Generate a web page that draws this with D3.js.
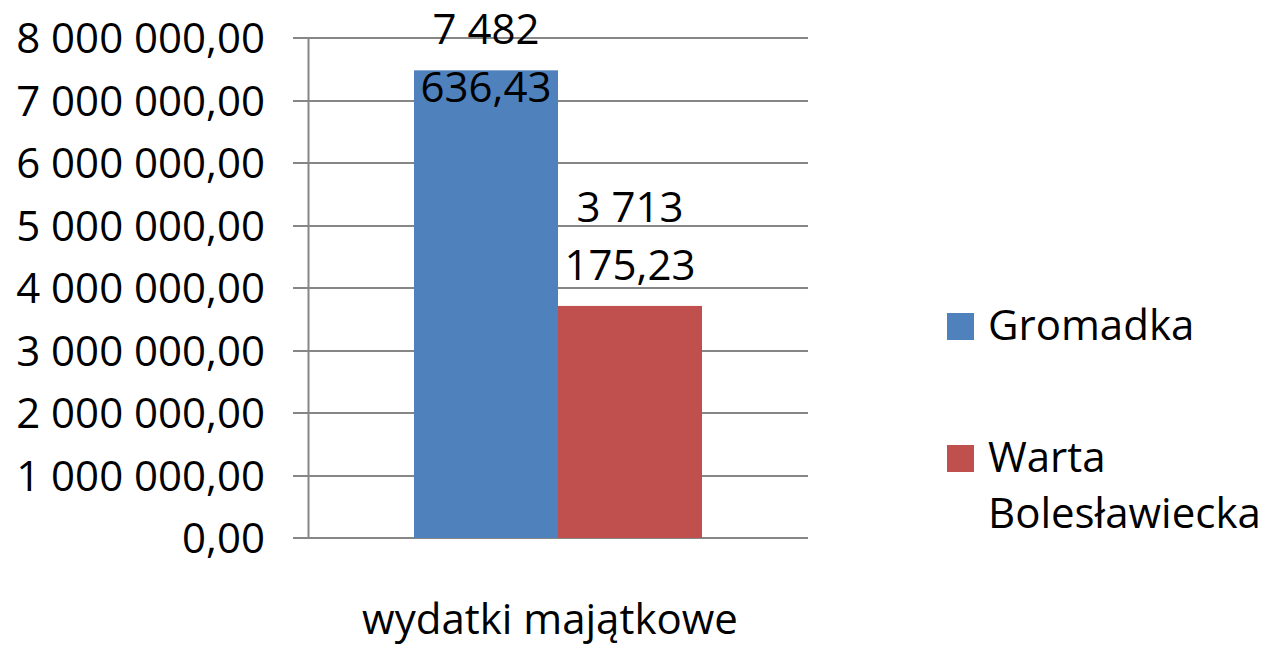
<!DOCTYPE html>
<html>
<head>
<meta charset="utf-8">
<script src="https://cdn.jsdelivr.net/npm/d3@7"></script>
<style>
  html, body { margin: 0; padding: 0; background: #fff; }
  svg text { font-family: "Open Sans", sans-serif; fill: #000; }
</style>
</head>
<body>
<svg id="chart" width="1264" height="647"></svg>
<script>
// dane
const categories = ["wydatki majątkowe"]
const series = ["Gromadka", "Warta Bolesławiecka"]
const values = [7482636.43, 3713175.23]
const colors = ["#4F81BD", "#C0504D"]
const yTicks = [0, 1000000, 2000000, 3000000, 4000000, 5000000, 6000000, 7000000, 8000000]

const plotLeft = 308,   // oś Y
      plotRight = 808,
      plotTop = 38,
      plotBottom = 538,
      fontSize = 42,
      gridColor = "#868686"

const svg = d3.select("#chart")

const y = d3.scaleLinear().domain([0, 8000000]).range([plotBottom, plotTop])
const x0 = d3.scaleBand().domain(categories).range([plotLeft, plotRight]).padding(0.269)
const x1 = d3.scaleBand().domain(series).range([0, x0.bandwidth()])

// polski format liczb: "7 482 636,43"
function fmt(v) {
  const parts = v.toFixed(2).split(".")
  return parts[0].replace(/\B(?=(\d{3})+(?!\d))/g, " ") + "," + parts[1]
}

// linie siatki
svg.append("g")
  .selectAll("line")
  .data(yTicks)
  .join("line")
    .attr("x1", plotLeft - 15)
    .attr("x2", plotRight)
    .attr("y1", d => Math.round(y(d)))
    .attr("y2", d => Math.round(y(d)))
    .attr("stroke", gridColor)
    .attr("stroke-width", 2)

// oś Y
const yAxis = d3.axisLeft(y).tickValues(yTicks).tickSize(0).tickPadding(0).tickFormat(fmt)
const gy = svg.append("g").attr("transform", `translate(${plotLeft},0)`).call(yAxis)
gy.select(".domain").attr("stroke", gridColor).attr("stroke-width", 2)
gy.selectAll("text")
  .attr("x", -43)
  .attr("dy", "0.35em")
  .style("font-size", fontSize + "px")
  .style("font-family", "'Open Sans', sans-serif")
  .attr("fill", "#000")

// słupki
const g = svg.append("g")
categories.forEach(cat => {
  series.forEach((s, i) => {
    g.append("rect")
      .attr("x", x0(cat) + x1(s))
      .attr("y", y(values[i]))
      .attr("width", x1.bandwidth())
      .attr("height", plotBottom - y(values[i]))
      .attr("fill", colors[i])
  })
})

// etykiety danych (dwie linie, jak w Excelu)
const lineGap = 58
series.forEach((s, i) => {
  const cx = x0(categories[0]) + x1(s) + x1.bandwidth() / 2
  const txt = fmt(values[i])
  const sp = txt.lastIndexOf(" ")
  const lines = [txt.slice(0, sp), txt.slice(sp + 1)]
  let last = y(values[i]) - 26
  let first = last - lineGap
  if (first < 44) { first = 44; last = first + lineGap }
  const t = svg.append("text")
    .attr("text-anchor", "middle")
    .style("font-size", fontSize + "px")
  t.append("tspan").attr("x", cx).attr("y", first).text(lines[0])
  t.append("tspan").attr("x", cx).attr("y", last).text(lines[1])
})

// etykieta kategorii
svg.append("text")
  .attr("x", x0(categories[0]) + x0.bandwidth() / 2 - 8)
  .attr("y", 634)
  .attr("text-anchor", "middle")
  .style("font-size", fontSize + "px")
  .text(categories[0])

// legenda
const legend = svg.append("g")
const legendRows = [["Gromadka"], ["Warta", "Bolesławiecka"]]
const legendY = [313, 445]
series.forEach((s, i) => {
  legend.append("rect")
    .attr("x", 947)
    .attr("y", legendY[i])
    .attr("width", 27)
    .attr("height", 27)
    .attr("fill", colors[i])
  const t = legend.append("text").style("font-size", fontSize + "px")
  legendRows[i].forEach((ln, k) => {
    t.append("tspan").attr("x", 988).attr("y", legendY[i] + 27 + k * 56).text(ln)
  })
})
</script>
</body>
</html>
